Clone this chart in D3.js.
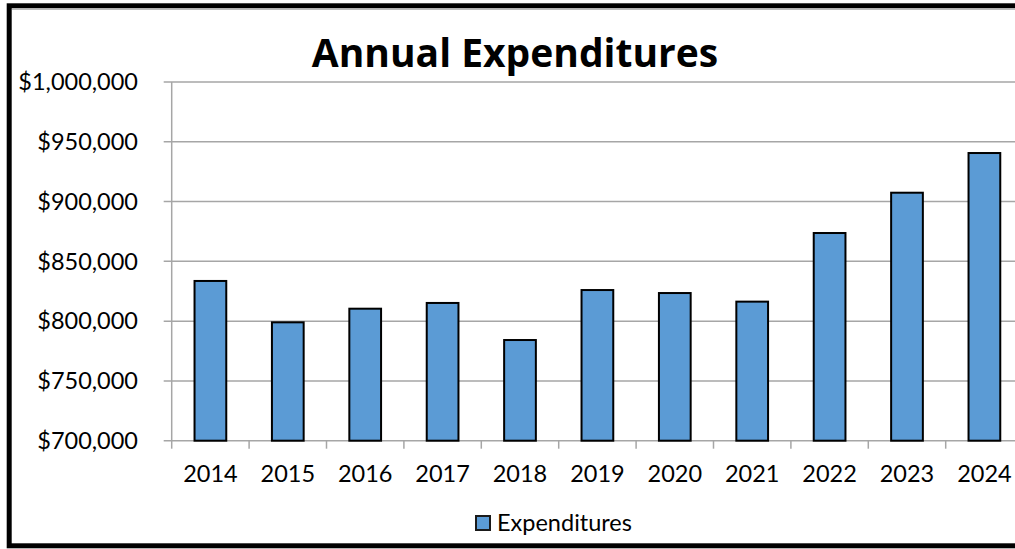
<!DOCTYPE html>
<html>
<head>
<meta charset="utf-8">
<script src="https://cdn.jsdelivr.net/npm/d3@7"></script>
<style>
  html, body { margin: 0; padding: 0; background: #fff; overflow: hidden; }
  svg { display: block; }
  text { font-family: Lato, "Open Sans", sans-serif; fill: #000; }
</style>
</head>
<body>
<svg id="chart" width="1015" height="549"></svg>
<script>
const years = ["2014","2015","2016","2017","2018","2019","2020","2021","2022","2023","2024"];
const expenditures = [833600, 799000, 810400, 815200, 784200, 826000, 823500, 816300, 873700, 907400, 940600];
const yTicks = [700000, 750000, 800000, 850000, 900000, 950000, 1000000];
const seriesName = "Expenditures";
const titleText = "Annual Expenditures";

(function () {
const svg = d3.select("#chart");
const W = 1015, H = 549;
const fs = 23.5;

const plotLeft = 171.7, step = 77.4;
const plotRight = plotLeft + step * years.length;
const plotTop = 82, plotBottom = 440.7;

const x = d3.scaleBand().domain(years).range([plotLeft, plotRight]).paddingInner(0.59).paddingOuter(0.295);
const y = d3.scaleLinear().domain([700000, 1000000]).range([plotBottom, plotTop]);

svg.append("rect").attr("x", 0).attr("y", 0).attr("width", W).attr("height", H).attr("fill", "#fff");

// gridlines
svg.append("g").selectAll("line").data(yTicks).join("line")
  .attr("x1", plotLeft - 8).attr("x2", plotRight + 10)
  .attr("y1", d => y(d)).attr("y2", d => y(d))
  .attr("stroke", "#a6a6a6").attr("stroke-width", 1.5);

// y axis line
svg.append("line").attr("x1", plotLeft).attr("x2", plotLeft).attr("y1", plotTop).attr("y2", plotBottom)
  .attr("stroke", "#a6a6a6").attr("stroke-width", 1.5);

// y tick labels
const fmt = d3.format("$,");
svg.append("g").selectAll("text").data(yTicks).join("text")
  .attr("x", 138).attr("y", d => y(d)).attr("dy", "0.35em")
  .attr("text-anchor", "end").attr("font-size", fs)
  .text(d => fmt(d));

// x ticks at band boundaries
const xTickPos = years.map((d, i) => plotLeft + i * step).concat([plotRight]);
svg.append("g").selectAll("line").data(xTickPos).join("line")
  .attr("x1", d => d).attr("x2", d => d).attr("y1", plotBottom).attr("y2", plotBottom + 8)
  .attr("stroke", "#a6a6a6").attr("stroke-width", 1.5);

// bars
svg.append("g").selectAll("rect").data(years).join("rect")
  .attr("x", d => x(d)).attr("width", x.bandwidth())
  .attr("y", (d, i) => y(expenditures[i]))
  .attr("height", (d, i) => plotBottom - y(expenditures[i]))
  .attr("fill", "#5b9bd5").attr("stroke", "#000").attr("stroke-width", 2);

// x labels
svg.append("g").selectAll("text").data(years).join("text")
  .attr("x", d => x(d) + x.bandwidth() / 2).attr("y", 482)
  .attr("text-anchor", "middle").attr("font-size", fs)
  .text(d => d);

// title: width ~414px
const title = svg.append("text").attr("x", 515).attr("y", 67)
  .attr("text-anchor", "middle").attr("font-weight", "bold").attr("font-size", 36)
  .style("font-family", "'Open Sans', Lato, sans-serif")
  .text(titleText);
const tw = title.node().getComputedTextLength();
title.attr("font-size", Math.min(39, 36 * 414 / tw));

// legend
svg.append("rect").attr("x", 476).attr("y", 516).attr("width", 14).attr("height", 14)
  .attr("fill", "#5b9bd5").attr("stroke", "#1a1a1a").attr("stroke-width", 2);
svg.append("text").attr("x", 497).attr("y", 530.5).attr("font-size", fs).text(seriesName);

// outer border
svg.append("line").attr("x1", 12).attr("x2", W).attr("y1", 9.5).attr("y2", 9.5)
  .attr("stroke", "#bdbdbd").attr("stroke-width", 1);
svg.append("rect").attr("x", 9.2).attr("y", 5.8).attr("width", W + 20).attr("height", 540)
  .attr("fill", "none").attr("stroke", "#000").attr("stroke-width", 5);
})();
</script>
</body>
</html>
